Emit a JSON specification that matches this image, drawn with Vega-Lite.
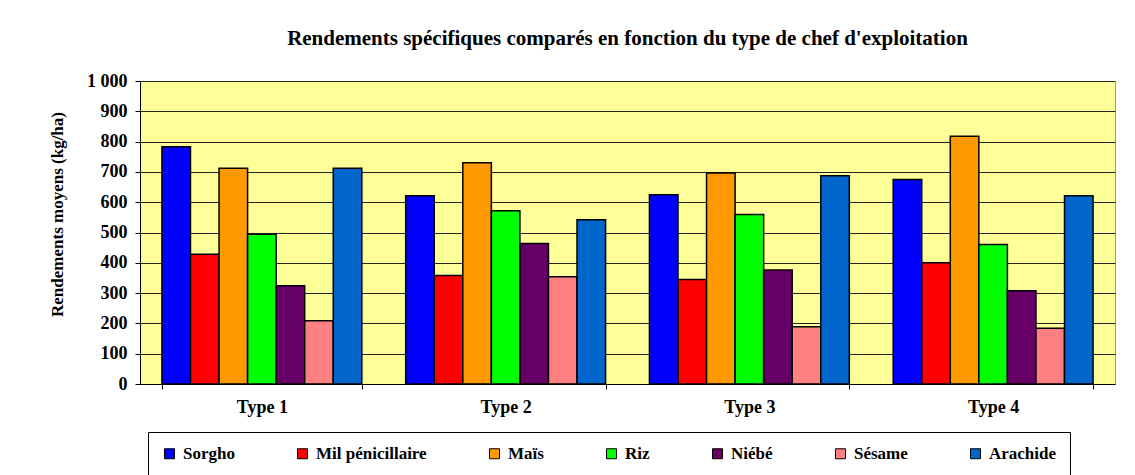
{
  "$schema": "https://vega.github.io/schema/vega-lite/v6.json",
  "width": 975,
  "height": 303,
  "autosize": {"type": "none"},
  "padding": {"left": 140, "top": 81, "right": 20, "bottom": 91},
  "background": "white",
  "title": {
    "text": "Rendements spécifiques comparés en fonction du type de chef d'exploitation",
    "font": "Times New Roman",
    "fontSize": 21,
    "fontWeight": "bold",
    "color": "black",
    "anchor": "middle",
    "offset": 23
  },
  "data": {
    "values": [
      {"type": "Type 1", "culture": "Sorgho", "rendement": 783},
      {"type": "Type 1", "culture": "Mil pénicillaire", "rendement": 428},
      {"type": "Type 1", "culture": "Maïs", "rendement": 712},
      {"type": "Type 1", "culture": "Riz", "rendement": 494},
      {"type": "Type 1", "culture": "Niébé", "rendement": 324},
      {"type": "Type 1", "culture": "Sésame", "rendement": 209},
      {"type": "Type 1", "culture": "Arachide", "rendement": 712},
      {"type": "Type 2", "culture": "Sorgho", "rendement": 621},
      {"type": "Type 2", "culture": "Mil pénicillaire", "rendement": 358},
      {"type": "Type 2", "culture": "Maïs", "rendement": 730},
      {"type": "Type 2", "culture": "Riz", "rendement": 572},
      {"type": "Type 2", "culture": "Niébé", "rendement": 464},
      {"type": "Type 2", "culture": "Sésame", "rendement": 354},
      {"type": "Type 2", "culture": "Arachide", "rendement": 542},
      {"type": "Type 3", "culture": "Sorgho", "rendement": 625},
      {"type": "Type 3", "culture": "Mil pénicillaire", "rendement": 345},
      {"type": "Type 3", "culture": "Maïs", "rendement": 696},
      {"type": "Type 3", "culture": "Riz", "rendement": 559},
      {"type": "Type 3", "culture": "Niébé", "rendement": 376},
      {"type": "Type 3", "culture": "Sésame", "rendement": 189},
      {"type": "Type 3", "culture": "Arachide", "rendement": 687},
      {"type": "Type 4", "culture": "Sorgho", "rendement": 675},
      {"type": "Type 4", "culture": "Mil pénicillaire", "rendement": 400},
      {"type": "Type 4", "culture": "Maïs", "rendement": 818},
      {"type": "Type 4", "culture": "Riz", "rendement": 460},
      {"type": "Type 4", "culture": "Niébé", "rendement": 308},
      {"type": "Type 4", "culture": "Sésame", "rendement": 184},
      {"type": "Type 4", "culture": "Arachide", "rendement": 621}
    ]
  },
  "mark": {"type": "bar", "stroke": "black", "strokeWidth": 1.5},
  "encoding": {
    "x": {
      "field": "type",
      "type": "nominal",
      "scale": {"paddingInner": 0.18, "paddingOuter": 0.09},
      "axis": {
        "title": null,
        "labelAngle": 0,
        "labelFont": "Times New Roman",
        "labelFontSize": 18,
        "labelFontWeight": "bold",
        "labelColor": "black",
        "labelPadding": 9,
        "tickBand": "extent",
        "tickSize": 5,
        "tickColor": "black",
        "domainColor": "black",
        "grid": false
      }
    },
    "xOffset": {
      "field": "culture",
      "type": "nominal",
      "sort": ["Sorgho", "Mil pénicillaire", "Maïs", "Riz", "Niébé", "Sésame", "Arachide"],
      "scale": {"paddingInner": 0, "paddingOuter": 0}
    },
    "y": {
      "field": "rendement",
      "type": "quantitative",
      "scale": {"domain": [0, 1000], "nice": false},
      "axis": {
        "title": "Rendements moyens (kg/ha)",
        "titleFont": "Times New Roman",
        "titleFontSize": 17,
        "titleFontWeight": "bold",
        "titleColor": "black",
        "titleX": -83,
        "titleY": 133,
        "titleAngle": -90,
        "titleAlign": "center",
        "titleBaseline": "middle",
        "values": [0, 100, 200, 300, 400, 500, 600, 700, 800, 900, 1000],
        "labelExpr": "replace(format(datum.value, ','), ',', ' ')",
        "labelFont": "Times New Roman",
        "labelFontSize": 18,
        "labelFontWeight": "bold",
        "labelColor": "black",
        "labelPadding": 8,
        "tickSize": 5,
        "tickColor": "black",
        "domainColor": "black",
        "grid": true,
        "gridColor": "#222222",
        "gridWidth": 1
      }
    },
    "color": {
      "field": "culture",
      "type": "nominal",
      "sort": ["Sorgho", "Mil pénicillaire", "Maïs", "Riz", "Niébé", "Sésame", "Arachide"],
      "scale": {
        "domain": ["Sorgho", "Mil pénicillaire", "Maïs", "Riz", "Niébé", "Sésame", "Arachide"],
        "range": ["#0000FF", "#FF0000", "#FF9900", "#00FF00", "#660066", "#FF8080", "#0066CC"]
      },
      "legend": {
        "title": null,
        "orient": "none",
        "legendX": 8,
        "legendY": 351,
        "direction": "horizontal",
        "columnPadding": 59,
        "padding": 13,
        "strokeColor": "black",
        "fillColor": "white",
        "symbolType": "square",
        "symbolSize": 100,
        "symbolStrokeColor": "black",
        "symbolStrokeWidth": 1,
        "symbolOpacity": 1,
        "labelFont": "Times New Roman",
        "labelFontSize": 17,
        "labelFontWeight": "bold",
        "labelColor": "black",
        "labelOffset": 5,
        "labelLimit": 300
      }
    }
  },
  "config": {
    "view": {"fill": "#FFFF99", "stroke": "#999999", "strokeWidth": 1}
  }
}
